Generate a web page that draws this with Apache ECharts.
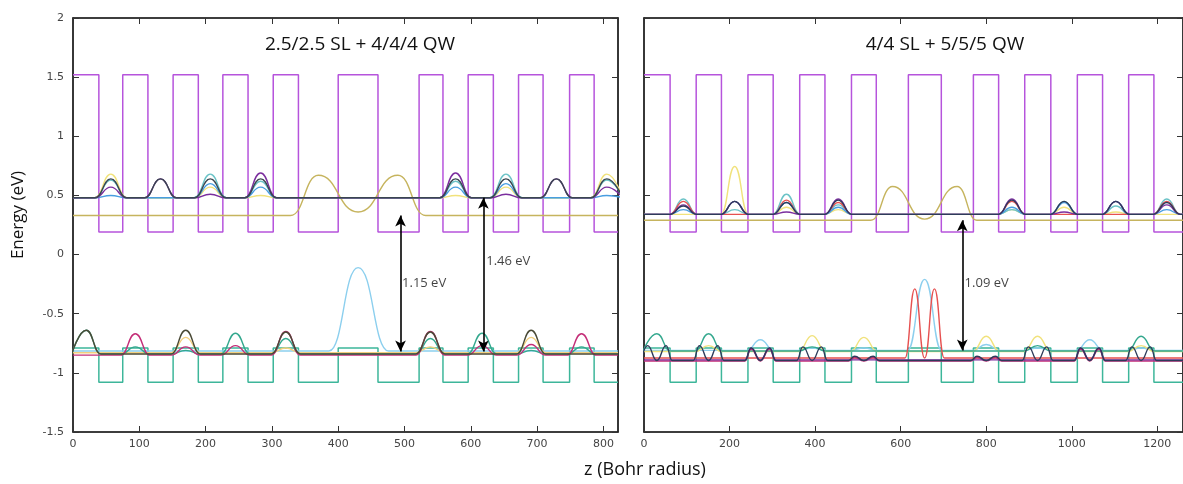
<!DOCTYPE html>
<html>
<head>
<meta charset="utf-8">
<script src="https://cdn.jsdelivr.net/npm/echarts@6/dist/echarts.min.js"></script>
<style>
html, body { margin: 0; padding: 0; background: #fff; }
#chart { width: 1183px; height: 484px; }
</style>
</head>
<body>
<div id="chart"></div>
<script>
// layer boundaries (z, Bohr radius); first layer is a barrier, then alternating
var leftEdges = [0, 39, 75, 113, 151, 189, 226, 264, 302, 340, 400, 460, 522, 558, 596, 634, 672, 709, 749, 786, 822];
var rightEdges = [0, 61, 122, 181, 243, 302, 364, 423, 485, 543, 618, 695, 770, 829, 890, 951, 1013, 1072, 1133, 1192, 1260];
var cbLevels = [1.52, 0.19];
var vbLevels = [-0.79, -1.08];

// left panel, conduction states: [z, peak]
var leftUpCyan = [[57, 0.63], [207, 0.68], [283, 0.62], [577, 0.62], [653, 0.68], [805, 0.63]];
var leftUpYellow = [[57, 0.68], [207, 0.57], [283, 0.50], [577, 0.50], [653, 0.57], [805, 0.68]];
var leftUpBlue = [[57, 0.50], [207, 0.60], [283, 0.57], [577, 0.57], [653, 0.60], [805, 0.50]];
var leftUpPurple = [[57, 0.57], [132, 0.64], [207, 0.51], [283, 0.69], [577, 0.69], [653, 0.51], [729, 0.64], [805, 0.57]];
var leftUpDark = [[57, 0.64], [132, 0.64], [207, 0.64], [283, 0.64], [577, 0.64], [653, 0.64], [729, 0.64], [805, 0.64]];
var leftKhaki = [[0, 0.33], [328, 0.33], [370, 0.67], [430, 0.36], [490, 0.67], [532, 0.33], [822, 0.33]];

// left panel, valence states
var leftLowTeal = [[20, -0.64], [94, -0.78], [170, -0.81], [245, -0.665], [321, -0.71], [539, -0.71], [617, -0.665], [691, -0.81], [767, -0.78]];
var leftLowMagenta = [[94, -0.67], [170, -0.78], [245, -0.77], [321, -0.65], [539, -0.65], [617, -0.77], [691, -0.76], [767, -0.67]];
var leftLowYellow = [[170, -0.70], [321, -0.79], [539, -0.78], [691, -0.70]];
var leftLowDark = [[20, -0.64], [170, -0.64], [321, -0.655], [539, -0.655], [691, -0.64]];
var leftLowSky = [[0, -0.815], [386, -0.815], [430, -0.11], [476, -0.815], [822, -0.815]];

// right panel, conduction states
var rightUpCyan = [[92, 0.47], [212, 0.38], [333, 0.51], [454, 0.42], [860, 0.38], [982, 0.45], [1103, 0.41], [1222, 0.47]];
var rightUpRed = [[92, 0.45], [333, 0.46], [454, 0.44], [860, 0.45], [1222, 0.45]];
var rightUpYellow = [[212, 0.745], [333, 0.40], [454, 0.38], [860, 0.38], [982, 0.40], [1103, 0.36]];
var rightUpBlue = [[92, 0.38], [212, 0.45], [333, 0.44], [454, 0.40], [860, 0.40], [982, 0.44], [1103, 0.45], [1222, 0.38]];
var rightUpPurple = [[92, 0.42], [212, 0.45], [333, 0.36], [454, 0.47], [860, 0.47], [982, 0.36], [1103, 0.45], [1222, 0.42]];
var rightUpDark = [[92, 0.41], [212, 0.45], [333, 0.44], [454, 0.46], [860, 0.46], [982, 0.45], [1103, 0.45], [1222, 0.44]];
var rightKhaki = [[0, 0.29], [530, 0.29], [581, 0.575], [656, 0.30], [732, 0.575], [778, 0.29], [1260, 0.29]];

// right panel, valence states; singles [z, peak, halfwidth?], doubles [z, lobe peak, halfwidth?, lobe offset?]
var rightLowTeal = [[30, -0.67], [151, -0.67], [393, -0.78], [920, -0.77], [1162, -0.69]];
var rightLowSky = [[272, -0.72], [393, -0.79], [514, -0.79], [656, -0.21, 40], [800, -0.76], [920, -0.79], [1042, -0.72], [1162, -0.79]];
var rightLowYellow = [[151, -0.77], [393, -0.685], [514, -0.70], [800, -0.69], [920, -0.69], [1162, -0.77]];
var rightLowRed = [[656, -0.29, 46, 23]];
var rightLowMagenta = [[272, -0.80], [514, -0.87], [800, -0.87], [1042, -0.80]];
var rightLowPurple = [[272, -0.79], [1042, -0.79]];
var rightLowDark = [[30, -0.77], [151, -0.77], [272, -0.79], [393, -0.78], [514, -0.86], [800, -0.86], [920, -0.78], [1042, -0.79], [1162, -0.78]];

// energy gaps: [z, top, bottom] and labels
var leftArrows = [[494, 0.33, -0.82], [619, 0.48, -0.82]];
var leftGapLabels = [[494, -0.24, '1.15 eV'], [621, -0.06, '1.46 eV']];
var rightArrows = [[744, 0.29, -0.81]];
var rightGapLabels = [[746, -0.24, '1.09 eV']];

var C = {
	cb: '#b654dc', vb: '#3db69a', khaki: '#c6b45e', dark: '#3a4650', darkOlive: '#4a4a36',
	navy: '#2e3b5a', purple: '#7b2e9e', cyan: '#6cc3c7', blue: '#489ee0', yellow: '#f1e27c',
	sky: '#8ccfee', magenta: '#c42e78', teal: '#34a88e', red: '#e65050', lightOrange: '#f3cf7c'
};

// tiny deep merge, no jQuery here
function extend(target){
	for (var i = 1; i < arguments.length; i++) {
		var src = arguments[i];
		for (var k in src) {
			var v = src[k];
			if (v && typeof v === 'object' && !Array.isArray(v)) {
				target[k] = extend(target[k] && typeof target[k] === 'object' ? target[k] : {}, v);
			} else {
				target[k] = v;
			}
		}
	}
	return target;
}

function bandEdge(edges, levels){
	var pts = [];
	for (var i = 0; i < edges.length - 1; i++) {
		var lv = levels[i % 2];
		pts.push([edges[i], lv], [edges[i + 1], lv]);
	}
	return pts;
}

function stateCurve(base, xmax, singles, hw, doubles, dw){
	var feats = [];
	(singles || []).forEach(function(b){
		var w = b[2] || hw;
		feats.push({c: b[0], pts: [[b[0] - w, base], [b[0], b[1]], [b[0] + w, base]]});
	});
	(doubles || []).forEach(function(b){
		var w = b[2] || dw;
		var o = b[3] || w * 0.6;
		feats.push({c: b[0], pts: [[b[0] - w, base], [b[0] - o, b[1]], [b[0], base], [b[0] + o, b[1]], [b[0] + w, base]]});
	});
	feats.sort(function(a, b){ return a.c - b.c; });
	var pts = [];
	if (!feats.length || feats[0].pts[0][0] > 0) pts.push([0, base]);
	feats.forEach(function(f){ pts = pts.concat(f.pts); });
	if (pts[pts.length - 1][0] < xmax) pts.push([xmax, base]);
	return pts;
}

function line(name, data, color, panel, width){
	return {
		name: name, type: 'line', data: data,
		xAxisIndex: panel * 2, yAxisIndex: panel * 2,
		showSymbol: false, symbol: 'none',
		smooth: 0.5, smoothMonotone: 'x',
		lineStyle: {color: color, width: width || 1.4},
		z: 3
	};
}

function stepLine(name, data, color, panel){
	var s = line(name, data, color, panel, 1.5);
	s.smooth = false;
	s.z = 2;
	return s;
}

function arrowSeries(arrows, panel){
	return {
		type: 'line', data: [], xAxisIndex: panel * 2, yAxisIndex: panel * 2,
		markLine: {
			silent: true, symbol: ['arrow', 'arrow'], symbolSize: [8, 11],
			lineStyle: {color: '#000', width: 1.6, type: 'solid'},
			label: {show: false},
			data: arrows.map(function(a){ return [{coord: [a[0], a[1]]}, {coord: [a[0], a[2]]}]; })
		},
		z: 5
	};
}

function labelSeries(labels, panel){
	return {
		type: 'scatter', xAxisIndex: panel * 2, yAxisIndex: panel * 2,
		symbolSize: 1, itemStyle: {color: 'rgba(0,0,0,0)'},
		data: labels.map(function(l){ return {value: [l[0], l[1]], name: l[2]}; }),
		label: {show: true, position: 'right', distance: 1, formatter: '{b}', fontFamily: 'Open Sans', fontSize: 13, color: '#111'},
		z: 6
	};
}

var axisCommon = {
	type: 'value',
	axisLine: {show: true, onZero: false, lineStyle: {color: '#222', width: 1.5}},
	axisTick: {show: true, inside: true, length: 6, lineStyle: {color: '#333', width: 1}},
	splitLine: {show: false}
};

function plain(v){ return String(v); }

function xAx(grid, max, interval, pos, labels){
	return extend({}, axisCommon, {
		gridIndex: grid, min: 0, max: max, interval: interval, position: pos,
		axisLabel: {show: labels, showMaxLabel: false, margin: 7, formatter: plain, fontFamily: 'DejaVu Sans', fontSize: 11, color: '#444'}
	});
}
function yAx(grid, pos, labels){
	return extend({}, axisCommon, {
		gridIndex: grid, min: -1.5, max: 2, interval: 0.5, position: pos,
		axisLabel: {show: labels, margin: 9, formatter: plain, fontFamily: 'DejaVu Sans', fontSize: 11, color: '#444'}
	});
}

var chart = echarts.init(document.getElementById('chart'), null, {renderer: 'canvas'});

var series = [
	stepLine('CB', bandEdge(leftEdges, cbLevels), C.cb, 0),
	stepLine('VB', bandEdge(leftEdges, vbLevels), C.vb, 0),
	line('khaki', leftKhaki, C.khaki, 0),
	line('cyan', stateCurve(0.48, 822, leftUpCyan, 24), C.cyan, 0),
	line('yellow', stateCurve(0.48, 822, leftUpYellow, 24), C.yellow, 0),
	line('blue', stateCurve(0.48, 822, leftUpBlue, 24), C.blue, 0),
	line('purple', stateCurve(0.48, 822, leftUpPurple, 24), C.purple, 0),
	line('dark', stateCurve(0.48, 822, leftUpDark, 24), C.dark, 0),
	line('sky', leftLowSky, C.sky, 0),
	line('yellowL', stateCurve(-0.83, 822, leftLowYellow, 22), C.lightOrange, 0),
	line('teal', stateCurve(-0.84, 822, leftLowTeal, 22), C.teal, 0),
	line('magenta', stateCurve(-0.85, 822, leftLowMagenta, 22), C.magenta, 0),
	line('darkL', stateCurve(-0.84, 822, leftLowDark, 22), C.darkOlive, 0),
	arrowSeries(leftArrows, 0),
	labelSeries(leftGapLabels, 0),

	stepLine('CB2', bandEdge(rightEdges, cbLevels), C.cb, 1),
	stepLine('VB2', bandEdge(rightEdges, vbLevels), C.vb, 1),
	line('khaki2', rightKhaki, C.khaki, 1),
	line('yellow2', stateCurve(0.34, 1260, rightUpYellow, 32), C.yellow, 1),
	line('cyan2', stateCurve(0.34, 1260, rightUpCyan, 32), C.cyan, 1),
	line('red2', stateCurve(0.34, 1260, rightUpRed, 32), C.red, 1),
	line('blue2', stateCurve(0.34, 1260, rightUpBlue, 32), C.blue, 1),
	line('purple2', stateCurve(0.34, 1260, rightUpPurple, 32), C.purple, 1),
	line('dark2', stateCurve(0.34, 1260, rightUpDark, 32), C.navy, 1),
	line('sky2', stateCurve(-0.81, 1260, rightLowSky, 32), C.sky, 1),
	line('yellowL2', stateCurve(-0.82, 1260, rightLowYellow, 32), C.yellow, 1),
	line('tealL2', stateCurve(-0.815, 1260, rightLowTeal, 32), C.teal, 1),
	line('redL2', stateCurve(-0.875, 1260, null, 32, rightLowRed, 46), C.red, 1),
	line('magentaL2', stateCurve(-0.90, 1260, null, 32, rightLowMagenta, 36), C.magenta, 1),
	line('purpleL2', stateCurve(-0.89, 1260, null, 32, rightLowPurple, 36), C.purple, 1),
	line('darkL2', stateCurve(-0.895, 1260, null, 32, rightLowDark, 36), C.navy, 1),
	arrowSeries(rightArrows, 1),
	labelSeries(rightGapLabels, 1)
];

var option = {
	animation: false,
	backgroundColor: '#fff',
	grid: [
		{left: 73, top: 18, width: 545, height: 414, show: true, borderColor: '#222', borderWidth: 1.2},
		{left: 644, top: 18, width: 549, height: 414, show: true, borderColor: '#222', borderWidth: 1.2}
	],
	xAxis: [
		xAx(0, 822, 100, 'bottom', true),
		xAx(0, 822, 100, 'top', false),
		xAx(1, 1260, 200, 'bottom', true),
		xAx(1, 1260, 200, 'top', false)
	],
	yAxis: [
		yAx(0, 'left', true),
		yAx(0, 'right', false),
		yAx(1, 'left', false),
		yAx(1, 'right', false)
	],
	graphic: [
		{type: 'text', x: 360, y: 45, style: {text: '2.5/2.5 SL + 4/4/4 QW', font: '19px "Open Sans"', fill: '#111', align: 'center', verticalAlign: 'middle'}},
		{type: 'text', x: 945, y: 45, style: {text: '4/4 SL + 5/5/5 QW', font: '19px "Open Sans"', fill: '#111', align: 'center', verticalAlign: 'middle'}},
		{type: 'text', x: 18, y: 215, rotation: Math.PI / 2, style: {text: 'Energy (eV)', font: '17px "Open Sans"', fill: '#111', align: 'center', verticalAlign: 'middle'}},
		{type: 'text', x: 645, y: 470, style: {text: 'z (Bohr radius)', font: '18px "Open Sans"', fill: '#111', align: 'center', verticalAlign: 'middle'}}
	],
	series: series
};
chart.setOption(option);
</script>
</body>
</html>
